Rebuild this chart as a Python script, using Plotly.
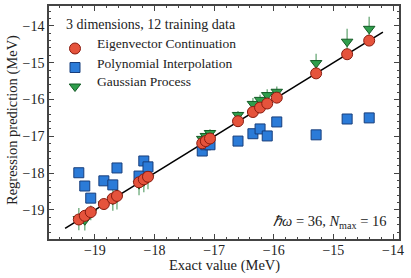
import plotly.graph_objects as go

exact = [-19.27, -19.17, -19.07, -18.85, -18.70, -18.63, -18.26, -18.18, -18.11,
         -17.20, -17.14, -17.07, -16.60, -16.35, -16.23, -16.11, -15.95, -15.29, -14.77, -14.40]
ec_pred = [-19.26, -19.16, -19.06, -18.84, -18.69, -18.62, -18.25, -18.17, -18.10,
           -17.19, -17.13, -17.06, -16.59, -16.34, -16.22, -16.11, -15.95, -15.29, -14.77, -14.40]
poly_pred = [-17.99, -18.35, -18.68, -18.21, -18.32, -17.86, -18.08, -17.67, -17.83,
             -17.40, -17.23, -17.23, -17.13, -16.93, -16.80, -16.99, -16.61, -16.96, -16.53, -16.50]
poly_x = [-19.27, -19.17, -19.07, -18.85, -18.70, -18.63, -18.26, -18.18, -18.11,
          -17.20, -17.14, -17.07, -16.60, -16.35, -16.23, -16.11, -15.95, -15.29, -14.77, -14.40]
gp_pred = [-19.25, -19.28, -19.08, -18.85, -18.72, -18.66, -18.30, -18.22, -18.14,
           -17.07, -16.99, -16.91, -16.42, -16.12, -16.01, -15.88, -15.79, -15.01, -14.43, -14.08]
gp_err = [0.3, 0.28, 0.2, 0.15, 0.3, 0.33, 0.3, 0.3, 0.3,
          0.12, 0.12, 0.1, 0.11, 0.16, 0.14, 0.16, 0.14, 0.25, 0.35, 0.33]
line_x = [-19.5, -14.17]
series_names = ["Eigenvector Continuation", "Polynomial Interpolation", "Gaussian Process"]
legend_title = "3 dimensions, 12 training data"

serif = "Liberation Serif"
txt = "#222"

W, H = 411, 278
L, R, T, B = 49, 12, 6, 39
pw, ph = W - L - R, H - T - B


def px_x(p):
    return (p - L) / pw


def px_y(p):
    return 1 - (p - T) / ph


fig = go.Figure()

fig.add_trace(go.Scatter(
    x=line_x, y=line_x, mode="lines", line=dict(color="black", width=1.6),
    showlegend=False, hoverinfo="skip"))

fig.add_trace(go.Scatter(
    x=exact, y=gp_pred, mode="markers", name=" ",
    marker=dict(symbol="triangle-down", size=10, color="#2f9e4c",
                line=dict(color="#135a25", width=1)),
    error_y=dict(type="data", array=gp_err, color="rgba(40,130,60,0.6)",
                 thickness=1.5, width=0),
    legendrank=3))

fig.add_trace(go.Scatter(
    x=poly_x, y=poly_pred, mode="markers", name=" ",
    marker=dict(symbol="square", size=10, color="#2b7bd8",
                line=dict(color="#173e7c", width=1)),
    legendrank=2))

fig.add_trace(go.Scatter(
    x=exact, y=ec_pred, mode="markers", name=" ",
    marker=dict(symbol="circle", size=11, color="#e5533c",
                line=dict(color="#8a1c10", width=1)),
    legendrank=1))

axis_common = dict(
    showline=True, linecolor="#444", linewidth=1.5, mirror="ticks",
    ticks="inside", ticklen=5, tickwidth=1, tickcolor="#444",
    showgrid=False, zeroline=False, automargin=False,
    tickfont=dict(family=serif, size=14, color=txt),
    minor=dict(ticks="inside", ticklen=2.5, dtick=0.2, tickcolor="#444", showgrid=False),
)

fig.update_xaxes(range=[-19.77, -13.9], dtick=1, tick0=-19, ticklabelstandoff=-3, **axis_common)
fig.update_yaxes(range=[-19.79, -13.46], dtick=1, tick0=-19, **axis_common)

fig.add_annotation(
    x=px_x(224), y=px_y(265), xref="paper", yref="paper", yanchor="middle",
    text="Exact value (MeV)", showarrow=False,
    font=dict(family=serif, size=14.5, color=txt))
fig.add_annotation(
    x=px_x(12), y=px_y(120), xref="paper", yref="paper", xanchor="center", yanchor="middle",
    text="Regression prediction (MeV)",
    showarrow=False, textangle=-90, font=dict(family=serif, size=14.5, color=txt))

fig.add_annotation(
    x=px_x(388), y=px_y(222), xref="paper", yref="paper", xanchor="right", yanchor="middle",
    text="<i>ℏω</i> = 36, <i>N</i><sub>max</sub> = 16", showarrow=False,
    font=dict(family=serif, size=14.5, color=txt))

fig.add_annotation(
    x=px_x(64), y=px_y(25), xref="paper", yref="paper", xanchor="left", yanchor="middle",
    text=legend_title, showarrow=False,
    font=dict(family=serif, size=14, color=txt))

for name, yc in zip(series_names, [44, 63, 82]):
    fig.add_annotation(
        x=px_x(95), y=px_y(yc), xref="paper", yref="paper", xanchor="left", yanchor="middle",
        text=name, showarrow=False, font=dict(family=serif, size=13.5, color=txt))

fig.update_layout(
    width=W, height=H,
    margin=dict(l=L, r=R, t=T, b=B),
    plot_bgcolor="white", paper_bgcolor="white",
    legend=dict(
        x=px_x(55), y=px_y(34), xanchor="left", yanchor="top",
        font=dict(family=serif, size=11, color=txt),
        bgcolor="rgba(0,0,0,0)", itemwidth=30, tracegroupgap=0,
    ),
)

fig.write_html(
    "out.html",
    config={"displayModeBar": False},
    post_script="document.body.style.margin='0';document.body.style.overflow='hidden';")
